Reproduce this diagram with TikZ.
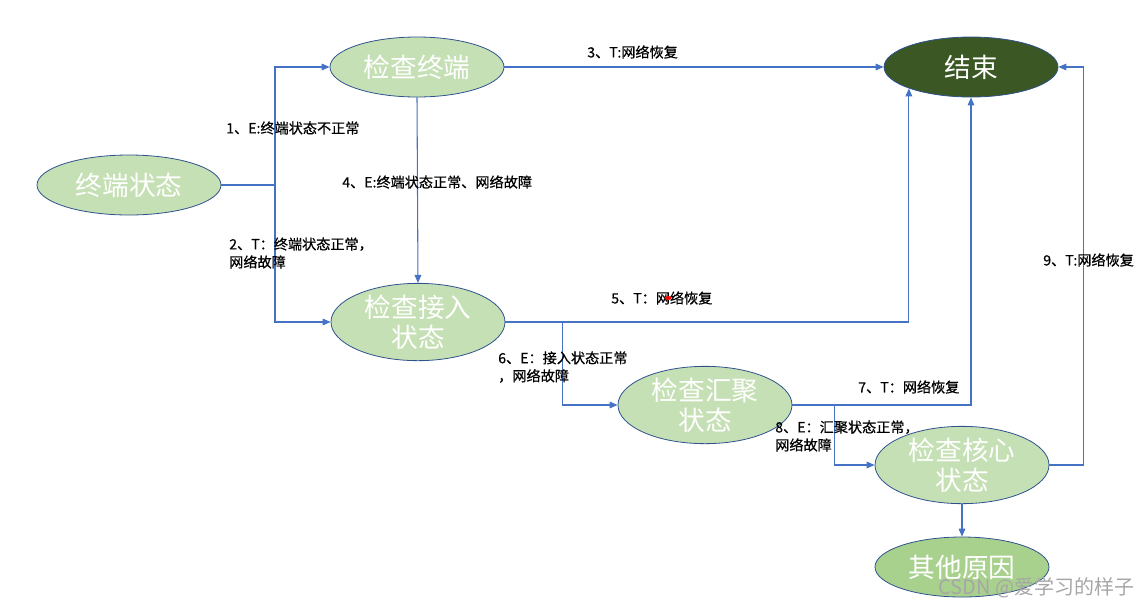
\documentclass[tikz,border=0pt]{standalone}
\usepackage{fontspec}
\newfontfamily\cjk{Noto Sans CJK SC}
\newfontfamily\cjkb{Noto Sans CJK SC}[FakeBold=0.6]
\usetikzlibrary{arrows.meta,shapes.geometric}
\definecolor{lgreen}{HTML}{C5E0B4}
\definecolor{mgreen}{HTML}{A9D18E}
\definecolor{dgreen}{HTML}{3A5724}
\definecolor{edgeblue}{HTML}{2F528F}
\definecolor{arrblue}{HTML}{4472C4}
\tikzset{
  state/.style={ellipse, draw=edgeblue, line width=0.6pt, fill=lgreen, text=white,
    minimum width=130.5pt, minimum height=45pt, inner sep=0pt, align=center,
    font=\cjk\fontsize{20}{22.5}\selectfont},
  arr/.style={draw=arrblue, line width=0.8pt, -{Triangle[length=6pt,width=5pt]}},
  ln/.style={draw=arrblue, line width=0.8pt},
  lbl/.style={anchor=west, inner sep=0pt, align=left, text=black,
    font=\cjkb\fontsize{10.6}{13.5}\selectfont},
}
\begin{document}
\begin{tikzpicture}[x=0.75pt,y=-0.75pt]
\useasboundingbox (0,0) rectangle (1146,608);
\node[state, minimum width=138pt] (zd) at (129,185) {终端状态};
\node[state] (jz) at (417,67) {检查终端};
\node[state, fill=dgreen] (js) at (971,67) {结束};
\node[state] (jr) at (418,322) {检查接入\\状态};
\node[state] (hj) at (705,405) {检查汇聚\\状态};
\node[state] (hx) at (962,465) {检查核心\\状态};
\node[state, fill=mgreen] (qt) at (962,567) {其他原因};

\coordinate (s1) at (275,185);
\draw[ln] (zd.east) -- (s1);
\draw[arr] (s1) |- (jz.west);
\draw[arr] (s1) |- (jr.west);
\draw[arr] (jz.south) -- (jr.north);
\draw[arr] (jz.east) -- (js.west);
\draw[arr] (jr.east) -| (js.199);
\draw[arr] (jr.east) -- ++(57,0) |- (hj.west);
\draw[arr] (hj.east) -| (js.south);
\draw[arr] (hj.east) -- ++(42,0) |- (hx.west);
\draw[arr] (hx.east) -- ++(34,0) |- (js.east);
\draw[arr] (hx.south) -- (qt.north);

\node[lbl] (l3) at (587,52) {3、T:网络恢复};
\node[lbl] (l1) at (226,128) {1、E:终端状态不正常};
\node[lbl] (l4) at (342,182) {4、E:终端状态正常、网络故障};
\node[lbl] (l2) at (229,253) {2、T：终端状态正常，\\网络故障};
\node[lbl] (l5) at (611,298) {5、T：网络恢复};
\node[lbl] (l6) at (498,367) {6、E：接入状态正常\\，网络故障};
\node[lbl] (l7) at (858,387) {7、T：网络恢复};
\node[lbl] (l8) at (775,436) {8、E：汇聚状态正常，\\网络故障};
\node[lbl] (l9) at (1043,260) {9、T:网络恢复};
\fill[red] (668,298) ellipse (3.5 and 2);
\node[anchor=west, inner sep=0pt, text=black!35, font=\cjk\fontsize{15}{17}\selectfont] (wm) at (938,588) {CSDN @爱学习的样子};
\end{tikzpicture}
\end{document}
